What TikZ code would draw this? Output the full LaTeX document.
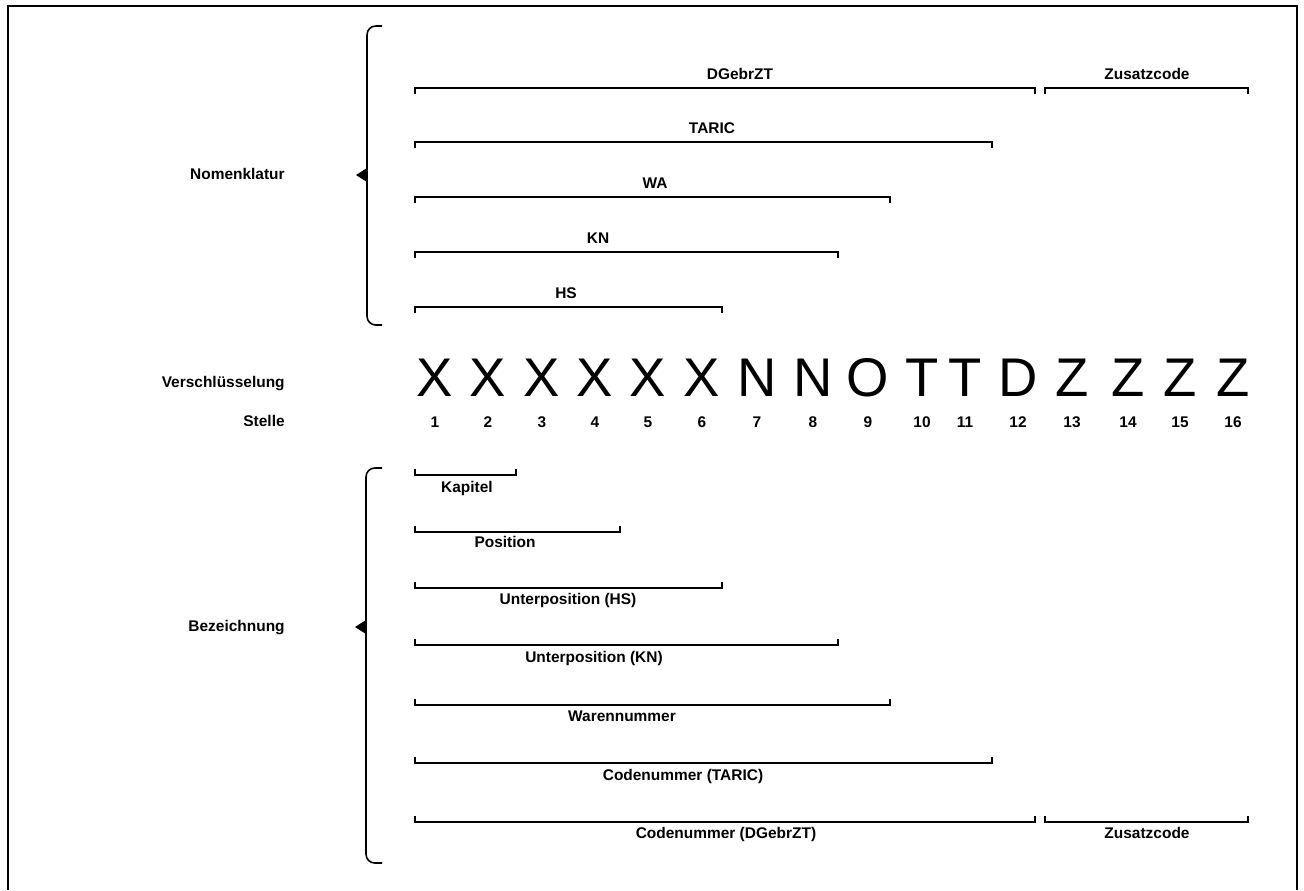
\documentclass[tikz,border=0pt]{standalone}
\usepackage{fontspec}
\setmainfont{Liberation Sans}
\begin{document}
\begin{tikzpicture}[x=0.02cm,y=-0.02cm]
	\tikzstyle{lbl}=[font=\bfseries\fontsize{8.8}{10}\selectfont,inner sep=0pt,anchor=base]
	\tikzstyle{big}=[font=\fontsize{31}{33}\selectfont,inner sep=0pt]
	\tikzstyle{span}=[line width=0.9pt]
	\tikzstyle{brace}=[line width=0.9pt,rounded corners=5pt]
	\useasboundingbox (0,0) rectangle (1304,890);

	% frame, open at the bottom
	\draw[line width=0.9pt] (8,890) -- (8,6) -- (1297,6) -- (1297,890);

	% row titles
	\node (nom) at (285,179) [lbl,anchor=base east] {Nomenklatur};
	\node (ver) at (285,387) [lbl,anchor=base east] {Verschlüsselung};
	\node (ste) at (285,426) [lbl,anchor=base east] {Stelle};
	\node (bez) at (285,631) [lbl,anchor=base east] {Bezeichnung};

	% braces with their pointers
	\draw[brace] (382,26) -- (367,26) -- (367,325) -- (382,325);
	\fill (367,168) -- (356,175) -- (367,182) -- cycle;
	\draw[brace] (382,468) -- (366,468) -- (366,863) -- (382,863);
	\fill (366,620) -- (355,627) -- (366,634) -- cycle;

	% code positions
	\foreach \x/\c [count=\i] in {435/X,488/X,542/X,595/X,648/X,702/X,757/N,813/N,
		868/O,922/T,965/T,1018/D,1072/Z,1128/Z,1180/Z,1233/Z} {
		\node[big] (c\i) at (\x,378) {\c};
		\node[lbl] (s\i) at (\x,427) {\i};
	}

	% nomenclatures (top)
	\foreach \y/\r in {88/1035,142/992,197/890,252/838,307/722}
		\draw[span] (415,\y+6) -- (415,\y) -- (\r,\y) -- (\r,\y+6);
	\draw[span] (1045,94) -- (1045,88) -- (1248,88) -- (1248,94);
	\node (dg) at (740,79) [lbl] {DGebrZT};
	\node (zc) at (1147,79) [lbl] {Zusatzcode};
	\node (ta) at (712,133) [lbl] {TARIC};
	\node (wa) at (655,188) [lbl] {WA};
	\node (kn) at (598,243) [lbl] {KN};
	\node (hs) at (566,298) [lbl] {HS};

	% designations (bottom)
	\foreach \y/\r in {475/516,532/620,588/722,645/838,705/890,763/992,822/1035}
		\draw[span] (415,\y-6) -- (415,\y) -- (\r,\y) -- (\r,\y-6);
	\draw[span] (1045,816) -- (1045,822) -- (1248,822) -- (1248,816);
	\node (kap) at (467,492) [lbl] {Kapitel};
	\node (pos) at (505,547) [lbl] {Position};
	\node (uhs) at (568,604) [lbl] {Unterposition (HS)};
	\node (ukn) at (594,662) [lbl] {Unterposition (KN)};
	\node (wn) at (622,721) [lbl] {Warennummer};
	\node (cta) at (683,780) [lbl] {Codenummer (TARIC)};
	\node (cdg) at (726,838) [lbl] {Codenummer (DGebrZT)};
	\node (zc2) at (1147,838) [lbl] {Zusatzcode};
\end{tikzpicture}
\end{document}
